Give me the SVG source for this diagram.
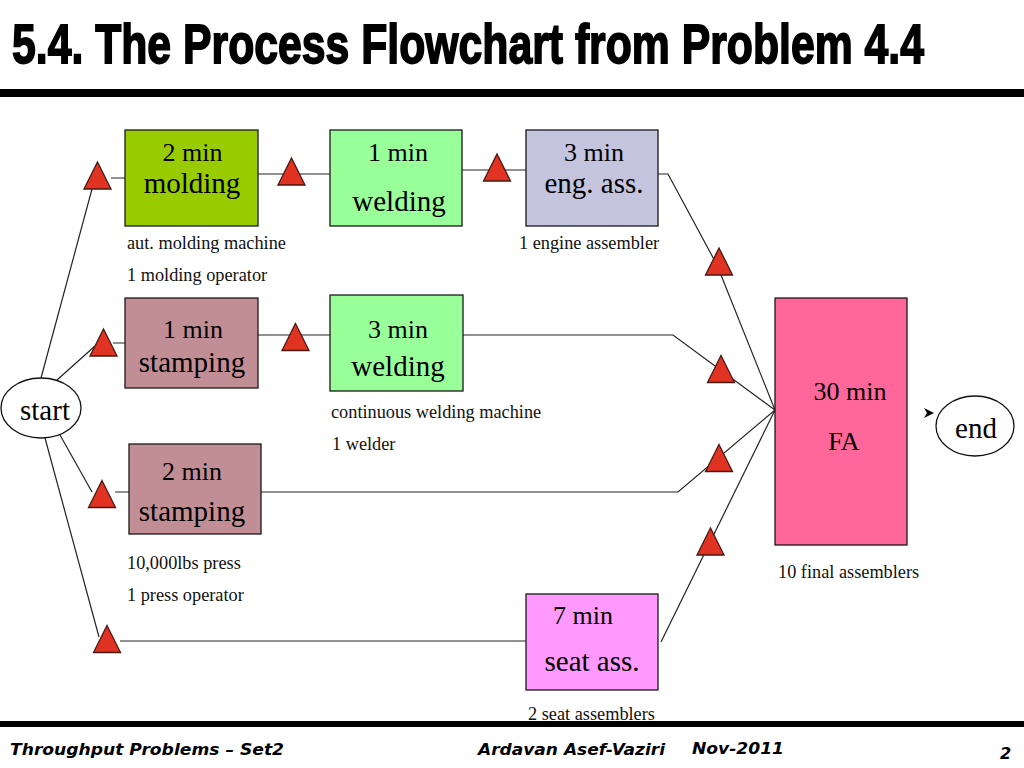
<svg xmlns="http://www.w3.org/2000/svg" xmlns:xlink="http://www.w3.org/1999/xlink" width="1024" height="768" viewBox="0 0 1024 768">
<style>
.box{stroke:#1a1a1a;stroke-width:1.3}
.t1{font-family:"Liberation Serif","Times New Roman",serif;font-size:26px;fill:#000;text-anchor:middle}
.t2{font-family:"Liberation Serif","Times New Roman",serif;font-size:29px;fill:#000;text-anchor:middle}
.lbl{font-family:"Liberation Serif","Times New Roman",serif;font-size:18.3px;fill:#111}
.conn{fill:none;stroke:#222;stroke-width:1.2}
.tri{fill:#E03322;stroke:#4a1710;stroke-width:1.3}
.foot{font-family:"DejaVu Sans","Liberation Sans",sans-serif;font-size:16px;font-weight:bold;font-style:italic;fill:#000}
</style>
<defs>
<path id="triShape" class="tri" d="M0,-13.5 L13.5,13.5 L-13.5,13.5 Z"/>
</defs>
<rect width="1024" height="768" fill="#fff"/>
<g id="title">
<text x="12" y="50.4" transform="scale(1,1.25)" font-family="'Liberation Sans Narrow','Liberation Sans',sans-serif" font-weight="bold" font-size="45" stroke="#000" stroke-width="1.4" textLength="912" lengthAdjust="spacingAndGlyphs" fill="#000">5.4. The Process Flowchart from Problem 4.4</text>
<rect x="0" y="89" width="1024" height="8" fill="#000"/>
</g>
<g id="connectors" class="conn">
<path d="M41,378 L92,189 M111,178 H125"/>
<path d="M258,174 H330"/>
<path d="M462,170 H526"/>
<path d="M658,174 H668 L717,265 L775,410"/>
<path d="M57,380 L95,346 M113,343 H125"/>
<path d="M258,335 H330"/>
<path d="M463,335 H673 L775,410"/>
<path d="M60,435 L92,492 M115,492 H129"/>
<path d="M261,492 H678 L775,410"/>
<path d="M45,438 L99,637 M120,641 H526"/>
<path d="M661,642 L775,410"/>
<polygon points="924,408 934,413 924,418 927,413" fill="#000" stroke="none"/>
</g>
<g id="buffers">
<use id="buf1" xlink:href="#triShape" x="97.5" y="175.5"/>
<use id="buf2" xlink:href="#triShape" x="291.5" y="171.5"/>
<use id="buf3" xlink:href="#triShape" x="497" y="167.5"/>
<use id="buf4" xlink:href="#triShape" x="719" y="261.5"/>
<use id="buf5" xlink:href="#triShape" x="721" y="369"/>
<use id="buf6" xlink:href="#triShape" x="719" y="458"/>
<use id="buf7" xlink:href="#triShape" x="710.5" y="541.5"/>
<use id="buf8" xlink:href="#triShape" x="103.5" y="342.5"/>
<use id="buf9" xlink:href="#triShape" x="295.5" y="337"/>
<use id="buf10" xlink:href="#triShape" x="102" y="494"/>
<use id="buf11" xlink:href="#triShape" x="107" y="639"/>
</g>
<g id="start">
<ellipse cx="41" cy="408" rx="40" ry="30" fill="#fff" stroke="#111" stroke-width="1.3"/>
<text x="45" y="420" class="t2" font-size="28">start</text>
</g>
<g id="end">
<ellipse cx="975" cy="426" rx="39" ry="30" fill="#fff" stroke="#111" stroke-width="1.3"/>
<text x="976" y="438" class="t2" font-size="28">end</text>
</g>
<g id="molding">
<rect class="box" x="125" y="130" width="133" height="96" fill="#99CC00"/>
<text class="t1" x="192.5" y="161">2 min</text>
<text class="t2" x="192" y="193">molding</text>
<text class="lbl" x="127" y="249">aut. molding machine</text>
<text class="lbl" x="127" y="281">1 molding operator</text>
</g>
<g id="welding1">
<rect class="box" x="330" y="130" width="132" height="96" fill="#99FF99"/>
<text class="t1" x="398" y="161">1 min</text>
<text class="t2" x="399" y="211">welding</text>
</g>
<g id="engass">
<rect class="box" x="526" y="130" width="132" height="96" fill="#C4C4DE"/>
<text class="t1" x="594" y="161">3 min</text>
<text class="t2" x="594" y="193">eng. ass.</text>
<text class="lbl" x="519" y="249">1 engine assembler</text>
</g>
<g id="stamping1">
<rect class="box" x="125" y="298" width="133" height="90" fill="#C28E96"/>
<text class="t1" x="193" y="338">1 min</text>
<text class="t2" x="192" y="372">stamping</text>
</g>
<g id="welding2">
<rect class="box" x="330" y="295" width="133" height="96" fill="#99FF99"/>
<text class="t1" x="398" y="338">3 min</text>
<text class="t2" x="398" y="376">welding</text>
<text class="lbl" x="331" y="418">continuous welding machine</text>
<text class="lbl" x="332" y="450">1 welder</text>
</g>
<g id="stamping2">
<rect class="box" x="129" y="444" width="132" height="90" fill="#C28E96"/>
<text class="t1" x="192" y="480">2 min</text>
<text class="t2" x="192" y="521">stamping</text>
<text class="lbl" x="127" y="569">10,000lbs press</text>
<text class="lbl" x="127" y="601">1 press operator</text>
</g>
<g id="seatass">
<rect class="box" x="526" y="594" width="132" height="96" fill="#FF99FF"/>
<text class="t1" x="583" y="624">7 min</text>
<text class="t2" x="592" y="671">seat ass.</text>
<text class="lbl" x="528" y="720">2 seat assemblers</text>
</g>
<g id="fa">
<rect class="box" x="775" y="298" width="132" height="247" fill="#FF6699"/>
<text class="t1" x="850" y="400" font-size="27">30 min</text>
<text class="t1" x="844" y="450" font-size="27">FA</text>
<text class="lbl" x="778" y="578">10 final assemblers</text>
</g>
<g id="footer">
<rect x="0" y="721" width="1024" height="6" fill="#000"/>
<text class="foot" x="10" y="755" textLength="274" lengthAdjust="spacingAndGlyphs">Throughput Problems – Set2</text>
<text class="foot" x="478" y="755" textLength="187" lengthAdjust="spacingAndGlyphs">Ardavan Asef-Vaziri</text>
<text class="foot" x="692" y="754" textLength="92" lengthAdjust="spacingAndGlyphs">Nov-2011</text>
<text class="foot" x="1000" y="759">2</text>
</g>
</svg>
